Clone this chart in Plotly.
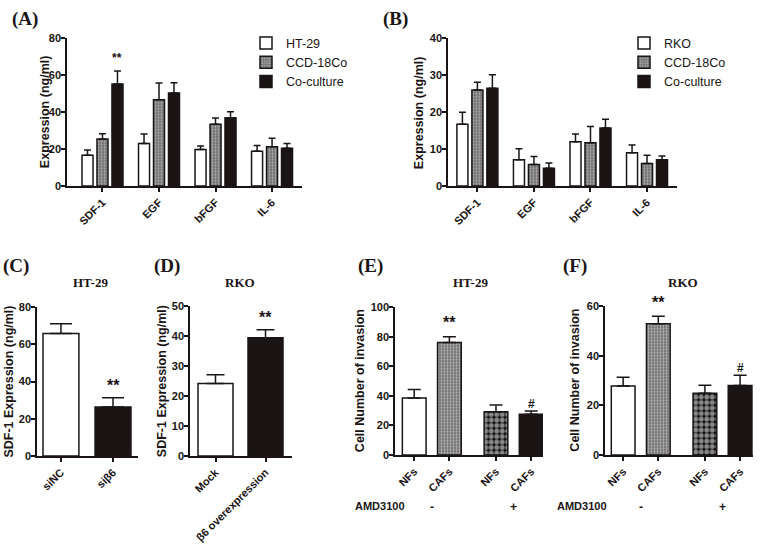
import plotly.graph_objects as go

W, H = 761, 550

# ---------------- data ----------------
# Panel A (HT-29)
a_cats = ["SDF-1", "EGF", "bFGF", "IL-6"]
a_ht29 = [16.6, 23.0, 19.8, 18.8]
a_ht29_err = [2.9, 5.1, 1.8, 3.1]
a_ccd = [25.5, 46.7, 33.5, 21.2]
a_ccd_err = [2.8, 9.1, 3.3, 4.6]
a_co = [55.2, 50.3, 37.0, 20.4]
a_co_err = [7.1, 5.6, 3.2, 2.6]

# Panel B (RKO)
b_cats = ["SDF-1", "EGF", "bFGF", "IL-6"]
b_rko = [16.7, 7.1, 12.0, 9.0]
b_rko_err = [3.3, 3.0, 2.1, 2.1]
b_ccd = [26.0, 5.8, 11.7, 6.1]
b_ccd_err = [2.1, 2.2, 4.4, 2.2]
b_co = [26.5, 4.8, 15.7, 7.1]
b_co_err = [3.6, 1.4, 2.4, 1.0]

# Panel C (HT-29)
c_cats = ["siNC", "siβ6"]
c_vals = [65.9, 26.4]
c_err = [5.3, 4.9]

# Panel D (RKO)
d_cats = ["Mock", "β6 overexpression"]
d_vals = [24.2, 39.5]
d_err = [2.9, 2.7]

# Panels E / F : AMD3100 groups
amd_groups = ["-", "+"]
ef_labels = ["NFs", "CAFs"]
e_nfs = [38.5, 29.3]
e_nfs_err = [5.8, 4.6]
e_cafs = [76.1, 27.5]
e_cafs_err = [4.0, 2.2]
f_nfs = [27.8, 24.9]
f_nfs_err = [3.6, 3.2]
f_cafs = [53.0, 28.0]
f_cafs_err = [3.0, 4.2]

# ---------------- styling helpers ----------------
ARIAL = "Arial, 'Liberation Sans', sans-serif"
TIMES = "'Times New Roman', 'Liberation Serif', serif"
BLACK = "#1a1414"


def xd(a, b):
    return [a / W, b / W]


def yd(top, bottom):
    return [1 - bottom / H, 1 - top / H]


FINE_BG = "#6a6a6a"
FINE = dict(shape=".", size=3, solidity=0.45, fgcolor="#e6e6e6", bgcolor=FINE_BG)
NONE = dict(shape="")

fig = go.Figure()


def bar(x, y, err, ax, name, color, pattern, off, w, cap, legend=None, showlegend=False):
    n = len(y)
    fig.add_trace(go.Bar(
        x=x, y=y, name=name, offset=off, width=w,
        xaxis="x" + ax, yaxis="y" + ax,
        marker=dict(color=color, line=dict(color=BLACK, width=1.5), pattern=pattern),
        error_y=dict(type="data", array=err, arrayminus=[0] * n, symmetric=False,
                     color=BLACK, thickness=1.5, width=cap),
        showlegend=showlegend, legend=legend,
    ))


# ---------- Panel A ----------
pa = list(range(len(a_cats)))
bw_ab = 0.195
slot_ab = 0.265
offs_ab = [-0.3625 + i * slot_ab for i in range(3)]
bar(pa, a_ht29, a_ht29_err, "", "HT-29", "white", NONE, offs_ab[0], bw_ab, 3.5, "legend", True)
bar(pa, a_ccd, a_ccd_err, "", "CCD-18Co", FINE_BG, FINE, offs_ab[1], bw_ab, 3.5, "legend", True)
bar(pa, a_co, a_co_err, "", "Co-culture", BLACK, NONE, offs_ab[2], bw_ab, 3.5, "legend", True)

# ---------- Panel B ----------
pb = list(range(len(b_cats)))
bar(pb, b_rko, b_rko_err, "2", "RKO", "white", NONE, offs_ab[0], bw_ab, 3.5, "legend2", True)
bar(pb, b_ccd, b_ccd_err, "2", "CCD-18Co", FINE_BG, FINE, offs_ab[1], bw_ab, 3.5, "legend2", True)
bar(pb, b_co, b_co_err, "2", "Co-culture", BLACK, NONE, offs_ab[2], bw_ab, 3.5, "legend2", True)

# ---------- Panel C ----------
pc = list(range(len(c_cats)))
bar(pc, c_vals, c_err, "3", "HT-29", ["white", BLACK], NONE, -0.345, 0.69, 11)

# ---------- Panel D ----------
pd_ = list(range(len(d_cats)))
bar(pd_, d_vals, d_err, "4", "RKO", ["white", BLACK], NONE, -0.35, 0.7, 9)

# ---------- Panels E and F ----------
pg = list(range(len(amd_groups)))
bw_ef = 0.29
offs_ef = [-0.215 - bw_ef / 2, 0.215 - bw_ef / 2]
for ax, nfs, nfs_err, cafs, cafs_err in [("5", e_nfs, e_nfs_err, e_cafs, e_cafs_err),
                                         ("6", f_nfs, f_nfs_err, f_cafs, f_cafs_err)]:
    bar(pg, nfs, nfs_err, ax, "NFs", ["white", "#111111"],
        dict(shape=["", "."], size=5.5, solidity=0.62, fgcolor="#ffffff",
             bgcolor=["white", "#111111"]),
        offs_ef[0], bw_ef, 6.5)
    bar(pg, cafs, cafs_err, ax, "CAFs", [FINE_BG, BLACK],
        dict(shape=[".", ""], size=3, solidity=0.45, fgcolor="#e6e6e6", bgcolor=FINE_BG),
        offs_ef[1], bw_ef, 6.5)

ef_ticks = sorted([g + o + bw_ef / 2 for g in pg for o in offs_ef])
ef_ticktext = ef_labels * len(amd_groups)

# ---------------- axes ----------------
tickfont = dict(family=ARIAL, size=11, color=BLACK, weight="bold")


def xaxis(dom, rng, tv, tt, anchor):
    return dict(domain=dom, range=rng, tickvals=tv, ticktext=tt, tickangle=-45,
                showline=True, linecolor=BLACK, linewidth=1.5, ticks="outside",
                ticklen=4, tickwidth=1.5, tickcolor=BLACK, showgrid=False,
                zeroline=False, tickfont=tickfont, anchor=anchor, fixedrange=True)


def yaxis(dom, rng, dt, anchor):
    return dict(domain=dom, range=rng, dtick=dt, showline=True, linecolor=BLACK,
                linewidth=1.5, ticks="outside", ticklen=4, tickwidth=1.5,
                tickcolor=BLACK, showgrid=False, zeroline=False, tickfont=tickfont,
                anchor=anchor, fixedrange=True, ticklabelstandoff=-2)


legfont = dict(family=ARIAL, size=12.5, color=BLACK)
layout = dict(
    width=W, height=H, margin=dict(l=0, r=0, t=0, b=0),
    paper_bgcolor="white", plot_bgcolor="white", barmode="overlay",
    font=dict(family=ARIAL, color=BLACK),
    xaxis=xaxis(xd(67, 302), [-0.628, 3.53], pa, a_cats, "y"),
    yaxis=yaxis(yd(33, 184), [0, 80], 20, "x"),
    xaxis2=xaxis(xd(448, 677), [-0.52, 3.53], pb, b_cats, "y2"),
    yaxis2=yaxis(yd(33, 184), [0, 40], 10, "x2"),
    xaxis3=xaxis(xd(37, 138), [-0.46, 1.48], pc, c_cats, "y3"),
    yaxis3=yaxis(yd(308, 460), [0, 80], 20, "x3"),
    xaxis4=xaxis(xd(190, 292), [-0.51, 1.53], pd_, d_cats, "y4"),
    yaxis4=yaxis(yd(307, 460), [0, 50], 10, "x4"),
    xaxis5=xaxis(xd(395, 543), [-0.45, 1.36], ef_ticks, ef_ticktext, "y5"),
    yaxis5=yaxis(yd(308, 459), [0, 100], 20, "x5"),
    xaxis6=xaxis(xd(605, 753), [-0.437, 1.373], ef_ticks, ef_ticktext, "y6"),
    yaxis6=yaxis(yd(307, 459), [0, 60], 20, "x6"),
    legend=dict(x=246 / W, y=1 - 23 / H, xanchor="left", yanchor="top",
                font=legfont, bgcolor="rgba(0,0,0,0)", tracegroupgap=0, itemwidth=30),
    legend2=dict(x=624 / W, y=1 - 23 / H, xanchor="left", yanchor="top",
                 font=legfont, bgcolor="rgba(0,0,0,0)", tracegroupgap=0, itemwidth=30),
)
fig.update_layout(**layout)

ann = []


def ptext(text, x, y, size, family, bold=True, **kw):
    d = dict(text=text, xref="paper", yref="paper", x=x / W, y=1 - y / H,
             showarrow=False, font=dict(family=family, size=size, color=BLACK,
                                         weight="bold" if bold else "normal"))
    d.update(kw)
    ann.append(d)


# panel letters
for lab, x, y in [("(A)", 10, 13), ("(B)", 381, 13), ("(C)", 1, 266),
                  ("(D)", 152, 266), ("(E)", 356, 266), ("(F)", 561, 266)]:
    ptext(lab, x, y, 19, TIMES, xanchor="left", yanchor="middle")

# panel titles
for lab, x in [("HT-29", 90), ("RKO", 240), ("HT-29", 470), ("RKO", 683)]:
    ptext(lab, x, 283, 13, TIMES, xanchor="center", yanchor="middle")

# y axis titles
for lab, x, top, bot in [("Expression (ng/ml)", 45, 33, 184),
                         ("Expression (ng/ml)", 419, 33, 184),
                         ("SDF-1 Expression (ng/ml)", 9, 308, 460),
                         ("SDF-1 Expression (ng/ml)", 162, 307, 460),
                         ("Cell Number of invasion", 360, 308, 459),
                         ("Cell Number of invasion", 575, 307, 459)]:
    ptext(lab, x, (top + bot) / 2, 12.5, ARIAL, textangle=-90,
          xanchor="center", yanchor="middle")

# AMD3100 rows
for xstart, xa in [(353, "x5"), (555, "x6")]:
    ptext("AMD3100", xstart, 511, 11, ARIAL, xanchor="left", yanchor="middle")
    for g, sign in zip(pg, amd_groups):
        ann.append(dict(text=sign, xref=xa, yref="paper", x=g, y=1 - 512 / H,
                        showarrow=False, xanchor="center", yanchor="middle",
                        font=dict(family=ARIAL, size=12, color=BLACK, weight="bold")))


def star(text, xa, ya, x, y, size, shift):
    ann.append(dict(text=text, xref=xa, yref=ya, x=x, y=y, showarrow=False,
                    xanchor="center", yanchor="bottom", yshift=shift,
                    font=dict(family=ARIAL, size=size, color=BLACK, weight="bold")))


star("**", "x", "y", 0 + offs_ab[2] + bw_ab / 2, a_co[0] + a_co_err[0], 12, 4)
star("**", "x3", "y3", 1, c_vals[1] + c_err[1], 16, 2)
star("**", "x4", "y4", 1, d_vals[1] + d_err[1], 16, 2)
star("**", "x5", "y5", 0 + offs_ef[1] + bw_ef / 2, e_cafs[0] + e_cafs_err[0], 16, 4)
star("#", "x5", "y5", 1 + offs_ef[1] + bw_ef / 2, e_cafs[1] + e_cafs_err[1], 12, -2)
star("**", "x6", "y6", 0 + offs_ef[1] + bw_ef / 2, f_cafs[0] + f_cafs_err[0], 16, 3)
star("#", "x6", "y6", 1 + offs_ef[1] + bw_ef / 2, f_cafs[1] + f_cafs_err[1], 12, -2)

fig.update_layout(annotations=ann)
fig.write_html("out.html", config={"displayModeBar": False},
               post_script="document.body.style.margin='0';")
